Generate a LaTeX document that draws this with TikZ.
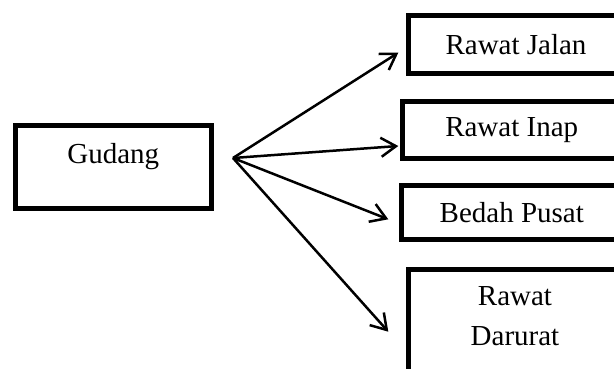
\documentclass[tikz,border=0pt]{standalone}
\usepackage{fontspec}
\setmainfont{Liberation Serif}
\usetikzlibrary{arrows.meta}
\begin{document}
\begin{tikzpicture}[x=1pt,y=-1pt,
  box/.style={draw=black,line width=5pt,rectangle,inner sep=0pt,outer sep=0pt},
  txt/.style={font=\fontsize{29}{40}\selectfont,align=center},
  conn/.style={line width=2.5pt,-{Straight Barb[length=15pt,width=19pt,line width=2.5pt]}}]
\useasboundingbox (0,0) rectangle (614,369);
\clip (0,0) rectangle (614,369);
\node[box,minimum width=195.5pt,minimum height=83pt,
  label={[txt,yshift=10pt]center:Gudang}] (gudang) at (113.25,167) {};
\node[box,txt,minimum width=216pt,minimum height=58pt] (jalan) at (516,45) {Rawat Jalan};
\node[box,txt,minimum width=219.4pt,minimum height=57pt] (inap) at (511.7,130) {Rawat Inap};
\node[box,txt,minimum width=220pt,minimum height=54.2pt] (bedah) at (511.8,212.6) {Bedah Pusat};
\node[box,minimum width=214pt,minimum height=120pt,anchor=north,
  label={[txt,anchor=north,yshift=-13pt]north:Rawat\\Darurat}] (darurat) at (515,269.7) {};
\coordinate (o) at (233,158);
\coordinate (tj) at (398.3,52.7);
\coordinate (ti) at (398.3,146);
\coordinate (tb) at (388.3,219.3);
\coordinate (td) at (388.3,331.7);
\draw[conn] (o) -- (tj);
\draw[conn] (o) -- (ti);
\draw[conn] (o) -- (tb);
\draw[conn] (o) -- (td);
\end{tikzpicture}
\end{document}
